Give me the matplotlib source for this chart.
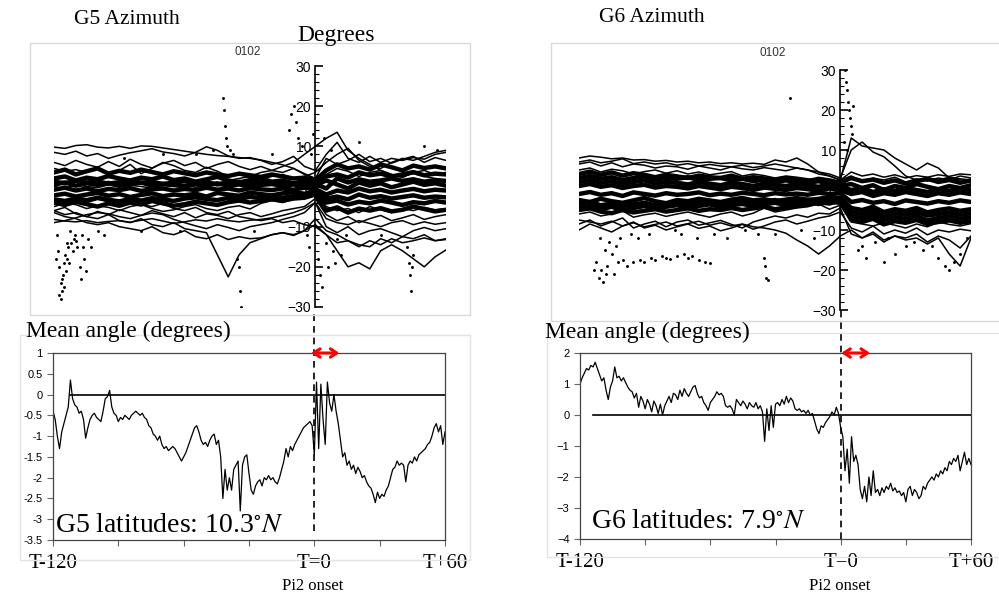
import numpy as np
import matplotlib
matplotlib.use("Agg")
import matplotlib.pyplot as plt
from matplotlib.patches import Rectangle

plt.rcParams['mathtext.fontset'] = 'stix'

W, H = 999, 597

# ---------------- data ----------------
t5 = np.arange(-120, 61, 5)      # 5-minute grid of the azimuth traces
t1 = np.arange(-120, 61, 1)      # 1-minute grid of the mean angle

# G5 azimuth traces (degrees)
g5_traces = [
    [9.8, 9.5, 10.2, 10.4, 9.8, 9.6, 10.0, 9.5, 10.1, 10.0, 9.6, 9.2, 8.8, 8.4, 8.0, 7.7, 7.5, 7.2, 7.0,
     6.6, 6.0, 5.4, 4.5, 3.2, 2.0, 3.0, 4.5, 3.8, 2.5, 3.5, 4.0, 3.0, 2.2, 3.5, 4.0, 3.0, 3.5],
    [8.5, 8.0, 8.8, 7.6, 8.2, 7.0, 7.8, 8.4, 8.9, 9.4, 8.6, 8.2, 7.6, 8.5, 9.9, 9.0, 7.6, 7.0, 7.2,
     6.5, 5.5, 6.2, 7.5, 5.0, 4.0, 8.0, 11.0, 7.0, 6.0, 7.5, 6.0, 7.0, 6.5, 7.2, 6.8, 8.0, 8.5],
    [4.5, 3.8, 4.2, 3.5, 4.8, 3.0, 4.0, 5.5, 3.2, 4.5, 6.0, 5.2, 4.0, 3.5, 4.8, 3.8, 2.5, 3.0, 2.2,
     1.8, 2.5, 3.0, 2.0, 2.5, 3.5, 6.0, 8.0, 9.5, 6.5, 5.0, 4.5, 6.0, 7.0, 6.5, 7.5, 8.5, 9.0],
    [6.0, 5.2, 6.5, 5.5, 4.8, 6.2, 5.0, 6.8, 5.5, 4.6, 5.8, 6.5, 5.2, 6.0, 4.5, 5.5, 6.2, 5.0, 4.2,
     5.0, 4.0, 3.5, 4.5, 3.0, 2.0, 7.0, 5.5, 6.5, 8.0, 6.2, 7.0, 5.8, 6.8, 7.5, 6.0, 7.2, 6.5],
    [0.0, -0.5, 0.5, 0.0, -0.3, 0.4, -0.2, 0.3, 0.0, -0.4, 0.2, 0.0, 0.5, -0.2, 0.3, 0.8, 1.5, 2.0, 2.5,
     3.5, 4.0, 5.0, 6.0, 8.0, 10.0, 12.0, 13.5, 9.0, 7.0, 5.5, 4.0, 3.0, 2.5, 3.2, 2.5, 2.0, 1.5],
    [-6.0, -5.2, -6.8, -7.5, -6.2, -7.0, -5.8, -6.5, -7.2, -6.0, -6.8, -7.5, -6.5, -7.8, -6.8, -7.2,
     -8.0, -7.0, -6.5, -7.5, -6.8, -6.0, -5.5, -5.0, -3.0, -7.0, -8.5, -7.5, -9.0, -8.0, -7.2, -8.5,
     -7.8, -7.0, -8.2, -7.5, -7.0],
    [-9.0, -8.5, -7.8, -7.0, -6.5, -6.8, -7.5, -8.0, -7.2, -6.6, -7.0, -8.2, -9.0, -9.8, -10.5, -9.5,
     -10.2, -11.0, -10.0, -9.5, -9.0, -8.2, -7.5, -6.5, -4.0, -10.0, -11.5, -10.0, -12.0, -11.0,
     -10.5, -11.5, -12.5, -11.0, -10.2, -11.0, -10.5],
    [-6.5, -7.5, -8.0, -9.0, -9.5, -9.0, -10.0, -10.5, -11.0, -10.0, -11.5, -12.0, -11.0, -12.5, -13.0,
     -12.0, -13.2, -12.5, -13.0, -12.8, -12.0, -11.5, -12.2, -11.0, -9.5, -12.0, -14.0, -13.5, -15.0,
     -13.5, -14.5, -13.0, -14.0, -13.5, -12.8, -13.5, -13.2],
    [-6.0, -7.0, -6.5, -7.5, -8.0, -7.0, -8.5, -9.0, -8.0, -9.5, -10.0, -9.0, -10.5, -11.0, -11.5,
     -17.0, -22.5, -17.0, -14.0, -13.0, -12.0, -11.5, -12.0, -11.0, -8.0, -11.0, -12.0, -13.5, -14.5,
     -15.0, -13.0, -14.0, -12.5, -13.0, -12.0, -13.5, -13.0],
    [-3.0, -3.5, -2.8, -4.0, -3.2, -3.8, -4.2, -3.5, -4.5, -5.0, -4.2, -5.5, -6.0, -5.2, -6.5, -7.0,
     -6.2, -7.5, -8.0, -8.5, -8.0, -9.0, -8.5, -9.5, -10.0, -12.0, -16.0, -20.0, -19.0, -20.5, -16.0,
     -14.5, -16.0, -18.0, -20.0, -17.5, -15.8],
    [-8.2, -8.6, -8.8, -8.5, -9.0, -8.7, -8.5, -8.9, -8.4, -8.0, -8.6, -9.2, -8.8, -8.3, -8.6, -8.0,
     -8.5, -8.8, -8.4, -8.2, -7.8, -7.2, -6.5, -5.5, -4.0, -8.0, -9.0, -9.5, -8.5, -9.2, -10.0, -9.0,
     -8.5, -9.5, -8.8, -9.4, -9.0],
    [-5.0, -4.2, -4.5, -5.5, -4.8, -5.2, -6.0, -5.0, -4.5, -5.5, -6.2, -5.8, -5.0, -4.5, -5.5, -6.0,
     -5.2, -4.8, -5.6, -4.2, -3.5, -4.0, -3.2, -2.5, -1.5, -5.0, -6.0, -5.5, -6.5, -5.0, -5.8, -6.5,
     -5.5, -6.0, -5.2, -5.8, -5.5],
]
g5_band = [
    [3.5, 4.2, 3.0, 3.8, 4.5, 3.2, 3.9, 3.4, 4.2, 3.6, 3.0, 3.8, 3.3, 2.8, 3.5, 3.0, 2.6, 3.2, 2.8,
     2.4, 3.0, 2.5, 2.0, 2.2, 1.5, 4.0, 5.5, 4.5, 5.0, 4.2, 5.5, 4.8, 4.0, 5.2, 4.6, 5.0, 4.5],
    [2.0, 2.5, 1.5, 2.2, 1.8, 2.6, 2.0, 1.5, 2.2, 1.8, 2.5, 1.6, 2.0, 1.2, 1.8, 2.4, 1.5, 1.0, 1.6,
     2.0, 1.2, 1.5, 0.8, 1.4, 1.0, 2.5, 3.0, 2.2, 3.5, 2.8, 3.2, 2.5, 3.0, 3.6, 2.8, 3.2, 3.0],
    [1.2, 0.8, 1.5, 1.0, 1.3, 0.7, 1.1, 1.4, 0.9, 1.2, 0.6, 1.0, 1.3, 0.8, 1.1, 0.5, 0.9, 1.2, 0.7,
     1.0, 0.8, 1.1, 0.6, 0.9, 0.7, -0.5, 2.0, 1.0, 1.8, 1.2, 1.5, 2.0, 1.4, 1.8, 1.2, 1.6, 1.4],
    [0.5, 1.0, 0.2, 0.8, 0.4, 0.9, 0.3, 0.6, 1.0, 0.2, 0.7, 0.4, 0.0, 0.6, 0.3, 0.8, 0.2, 0.5, 0.0,
     0.4, 0.6, 0.2, 0.5, 0.0, 0.3, 1.5, 0.5, -0.5, 1.0, 0.2, 0.8, -0.2, 0.5, 1.2, 0.4, 0.8, 0.2],
    [-0.8, -0.3, -1.0, -0.5, -1.2, -0.6, -0.9, -0.4, -1.1, -0.7, -0.5, -1.0, -0.6, -0.9, -0.3, -0.8,
     -0.5, -1.0, -0.4, -0.7, -0.9, -0.5, -0.8, -0.3, -0.6, -2.0, -1.0, -1.5, -0.5, -1.2, -0.8, -1.5,
     -1.0, -0.6, -1.2, -0.8, -1.0],
    [-2.2, -1.8, -2.5, -2.0, -1.6, -2.3, -1.9, -2.6, -2.1, -1.7, -2.4, -2.0, -2.2, -1.8, -2.5, -1.6,
     -2.0, -2.3, -1.5, -1.9, -2.2, -1.7, -1.4, -1.8, -1.2, -3.0, -2.5, -3.2, -2.0, -2.8, -2.4, -3.0,
     -2.6, -2.2, -2.8, -2.5, -2.7],
    [-3.2, -3.6, -3.0, -3.4, -2.8, -3.3, -3.7, -3.1, -3.5, -2.9, -3.2, -3.6, -3.0, -2.7, -3.1, -3.4,
     -2.8, -3.0, -2.6, -2.9, -2.5, -2.8, -2.4, -2.0, -1.5, -4.0, -3.5, -4.5, -3.8, -4.2, -3.5, -4.0,
     -4.6, -3.9, -4.2, -3.6, -4.0],
    [-4.0, -4.6, -3.8, -4.4, -5.0, -4.2, -4.8, -4.0, -4.5, -3.6, -4.2, -4.8, -4.4, -3.8, -4.2, -4.6,
     -3.9, -3.5, -4.0, -3.6, -3.2, -3.5, -3.0, -2.8, -2.0, -6.0, -5.2, -6.5, -5.5, -6.0, -5.4, -6.2,
     -5.8, -5.0, -5.6, -6.2, -5.8],
]
g5_dots_t = [-118.5, -118, -117.5, -117, -116.8, -116.5, -116, -115.5, -115, -114.5, -114, -113.5,
             -113, -112, -111, -110.5, -110, -109.5, -108, -107.5, -107, -106.5, -106, -105.5,
             -119, -117.8, -116.2, -115.2, -114.2, -112.5, -111.5, -104.5, -103, -100, -97,
             -42.5, -42, -41.5, -41, -40.5, -39, -38, -36, -35, -34.5, -34, -12, -11, -10, -9, -8,
             -6, -4, -3, -2, -1, 1, 2, 3, 4, 5, 6, 7, 8, 9, 10, 12, 14, 42, 43, 43.5, 44, 44.5, 45,
             -88, -80, -70, -62, -55, -47, -28, -20, 20, 30, 50, 56]
g5_dots_y = [-12, -16, -20, -24, -28, -26, -22, -19, -17, -21, -18, -15, -19, -14, -13, -12, -13.5,
             -15, -20, -23, -12, -15, -18, -21, -18, -27, -23, -25, -14, -11, -16, -13, -15, -11,
             -12, 22, 19, 15, 12, 10, 9, 8, -18, -20, -26, -30, 14, 18, 20, 16, 12, 10, -12, -15, 8,
             13, -18, -22, -25, 12, -14, -20, 9, -16, -19, -13, -17, -12, -15, -19, -22, -26, -20,
             -17, 7, -11, 8, -11, 8, 9, -11, 8, 11, -12, 10, 9]

# G6 azimuth traces (degrees)
g6_traces = [
    [8.0, 8.5, 8.2, 7.8, 8.0, 7.5, 7.6, 7.2, 7.4, 7.0, 7.2, 6.8, 7.0, 6.6, 6.8, 6.5, 6.7, 6.4, 7.5,
     7.0, 8.0, 6.5, 4.5, 3.5, 2.5, 3.5, 2.0, 3.0, 2.5, 3.2, 2.0, 2.8, 2.2, 3.0, 2.5, 3.5, 3.0],
    [7.0, 7.5, 6.8, 7.2, 7.8, 6.6, 7.0, 6.5, 6.8, 6.2, 6.6, 6.0, 6.4, 6.0, 5.8, 6.2, 5.6, 6.0, 6.5,
     6.0, 5.5, 5.0, 4.0, 3.5, 2.5, 4.5, 3.5, 4.0, 3.2, 3.8, 3.0, 3.6, 3.2, 3.8, 3.4, 4.0, 3.8],
    [6.5, 7.0, 6.0, 6.8, 5.8, 6.5, 6.2, 5.5, 6.0, 5.8, 5.2, 6.0, 5.5, 5.0, 5.8, 5.3, 5.0, 5.6, 5.2,
     4.8, 5.5, 5.0, 4.5, 4.0, 3.0, 10.0, 12.0, 9.5, 8.3, 6.0, 3.5, 2.5, 3.0, 2.5, 3.2, 2.8, 2.5],
    [5.0, 5.5, 4.5, 5.2, 4.8, 4.0, 4.6, 5.0, 4.2, 4.8, 4.0, 4.5, 3.8, 4.2, 4.6, 3.5, 4.0, 3.6, 3.0,
     3.5, 3.2, 2.8, 2.5, 2.0, 2.5, 13.0, 11.0, 10.5, 10.0, 8.0, 6.5, 5.0, 6.7, 5.5, 3.0, 2.5, 2.0],
    [-6.0, -5.5, -6.5, -6.0, -5.2, -6.8, -6.2, -5.8, -6.6, -6.0, -5.5, -6.2, -6.8, -6.0, -5.5, -6.5,
     -5.8, -4.5, -5.5, -5.0, -4.5, -4.2, -3.5, -4.8, -3.8, -8.0, -8.5, -9.0, -8.2, -8.8, -9.5, -8.5,
     -9.2, -8.0, -8.6, -9.0, -8.4],
    [-8.5, -7.5, -9.0, -8.0, -7.0, -9.5, -8.5, -7.8, -9.2, -8.0, -7.5, -8.8, -8.2, -7.6, -8.6, -9.5,
     -8.0, -7.2, -6.5, -7.0, -6.2, -6.8, -5.8, -6.0, -4.5, -11.0, -12.0, -10.5, -12.5, -11.5, -12.0,
     -11.0, -13.0, -11.5, -12.5, -14.5, -11.5],
    [-10.0, -8.5, -9.5, -10.5, -9.0, -8.0, -9.5, -8.8, -10.0, -9.2, -8.5, -9.6, -9.0, -10.2, -9.5,
     -8.6, -9.8, -9.0, -8.0, -7.5, -8.5, -7.8, -7.0, -6.5, -5.5, -9.5, -10.5, -9.0, -11.0, -10.0,
     -10.8, -9.5, -11.2, -10.0, -10.5, -9.8, -10.2],
    [-7.5, -8.0, -8.5, -7.8, -9.0, -8.2, -9.2, -8.6, -8.0, -9.0, -8.4, -7.8, -8.8, -8.2, -9.0, -8.5,
     -9.2, -9.5, -10.0, -10.8, -12.5, -14.0, -16.0, -14.0, -11.5, -10.0, -12.0, -11.0, -13.0, -11.5,
     -12.5, -12.0, -13.5, -12.0, -16.0, -19.0, -12.0],
]
g6_band = [
    [4.0, 4.6, 3.8, 4.4, 3.6, 4.2, 3.8, 3.2, 3.8, 3.4, 3.0, 3.6, 3.2, 3.0, 3.6, 2.8, 3.2, 2.9, 2.5,
     3.0, 2.6, 2.2, 2.8, 2.4, 1.8, 3.0, 2.2, 2.6, 1.8, 2.4, 1.6, 2.2, 2.8, 2.0, 2.5, 1.8, 2.4],
    [3.0, 3.5, 2.8, 3.2, 2.5, 3.0, 3.4, 2.6, 3.0, 2.8, 3.2, 2.5, 2.8, 3.0, 2.4, 2.8, 2.2, 2.6, 2.0,
     2.4, 2.0, 1.8, 2.2, 1.5, 1.0, 1.5, 0.5, 1.2, 0.0, 1.0, 0.5, 1.5, 0.8, 0.2, 1.0, 0.5, 1.2],
    [2.0, 2.5, 1.8, 2.2, 1.5, 2.0, 2.4, 1.6, 2.0, 1.8, 1.4, 2.0, 1.6, 1.2, 1.8, 1.5, 1.0, 1.6, 1.3,
     1.0, 1.5, 1.2, 0.8, 1.4, 1.0, 0.0, 0.5, -0.5, 0.2, -0.2, 0.5, 0.0, -0.5, 0.2, -0.2, 0.4, 0.0],
    [1.0, 1.5, 0.8, 1.2, 0.5, 1.0, 1.3, 0.6, 1.0, 0.8, 0.4, 1.0, 0.6, 0.2, 0.8, 0.5, 0.0, 0.6, 0.3,
     0.0, 0.5, 0.2, -0.2, 0.4, 0.0, -1.0, -0.5, -1.5, -0.8, -1.2, -0.5, -1.0, -1.5, -0.8, -1.2, -0.6, -1.0],
    [-1.0, -0.5, -1.2, -0.8, -1.5, -0.6, -1.0, -1.4, -0.8, -1.2, -1.0, -0.6, -1.3, -0.9, -1.2, -0.7,
     -1.0, -1.3, -0.8, -1.1, -0.9, -1.2, -0.7, -1.0, -0.8, -3.0, -2.5, -3.2, -2.8, -3.5, -2.6, -3.0,
     -3.4, -2.8, -3.2, -2.6, -3.0],
    [-2.5, -3.0, -2.2, -2.8, -3.2, -2.6, -2.0, -2.8, -3.3, -2.5, -2.8, -2.2, -2.6, -3.0, -2.4, -2.0,
     -2.6, -2.3, -2.8, -2.4, -2.0, -2.5, -2.2, -1.8, -2.0, -4.5, -5.0, -4.2, -5.5, -4.8, -5.2, -4.5,
     -5.6, -5.0, -4.6, -5.2, -4.8],
    [-3.5, -3.0, -3.8, -3.4, -4.0, -3.6, -3.2, -3.8, -3.5, -3.0, -3.6, -3.2, -3.0, -3.5, -3.1, -2.8,
     -3.2, -2.9, -2.5, -3.0, -2.7, -2.4, -2.8, -2.5, -2.0, -5.5, -6.0, -5.2, -6.5, -5.8, -6.2, -5.5,
     -6.4, -6.0, -5.6, -6.2, -5.8],
    [-4.5, -4.0, -4.8, -4.2, -5.0, -4.5, -4.0, -4.6, -4.2, -3.8, -4.5, -4.0, -3.6, -4.2, -3.8, -3.5,
     -4.0, -3.6, -3.2, -3.8, -3.4, -3.0, -3.5, -3.0, -3.2, -6.5, -7.0, -6.2, -7.5, -6.8, -7.2, -6.5,
     -7.6, -7.0, -6.6, -7.2, -6.8],
    [-5.0, -4.6, -5.4, -5.8, -5.0, -5.6, -5.2, -4.8, -5.4, -5.0, -4.6, -5.2, -4.8, -5.0, -4.5, -5.0,
     -4.6, -4.2, -4.8, -4.4, -4.0, -3.6, -3.0, -3.4, -2.5, -7.5, -8.0, -7.2, -8.6, -7.8, -8.2, -7.5,
     -8.5, -8.0, -7.6, -8.2, -7.8],
]
g6_dots_t = [-112, -111, -110, -109, -108, -107, -106, -105, -104, -103, -102, -100, -98, -95, -92,
             -90, -87, -85, -82, -80, -78, -75, -72, -70, -68, -65, -62, -60, -35, -34.5, -34, -33,
             -23, 2, 2.5, 3, 3.5, 4, 4.5, 5, 5.5, 6, 8, 12, 16, 20, 25, 30, 38, 45, 48, 50, 52, 55,
             -113, -110.5, -107.5, -101, -96, -93, -88, -76, -73, -66, -58, -52, -44, -38, -30, -18,
             -12, 1.5, 3, 10, 22, 34, 42, 58]
g6_dots_y = [-18, -22, -20, -23, -15, -19, -13, -16, -21, -14, -18, -17.5, -19, -18, -17.5, -18,
             -17, -17.5, -16.5, -17, -17.2, -16.5, -16, -17, -16.5, -17.5, -18, -18.2, -17, -19,
             -22, -22.5, 23, 30, 27, 25, 22, 20, 18, 16, 14, 21, -15, -17, -13, -18, -16, -14, -15,
             -17, -19, -20, -18, -16, -20, -12, -21, -12, -11, -12, -11, -10, -11, -12, -11, -12,
             -10, -11, -11, -10, -12, 12, 10, -14, -12, -13, -14, -12]

# mean angle (degrees), 1-minute steps from T-120 to T+60
g5_mean = [
    -0.4, -0.6, -1.0, -1.3, -0.9, -0.7, -0.5, -0.3, 0.35, -0.1,
    -0.25, -0.3, -0.45, -0.4, -0.6, -1.05, -0.8, -0.6, -0.5, -0.45,
    -0.55, -0.6, -0.65, -0.4, -0.1, -0.05, 0.1, -0.3, -0.45, -0.5,
    -0.65, -0.55, -0.6, -0.5, -0.55, -0.6, -0.5, -0.45, -0.4, -0.45,
    -0.5, -0.45, -0.55, -0.6, -0.75, -0.8, -0.95, -1.0, -1.1, -1.0,
    -1.2, -1.3, -1.25, -1.35, -1.3, -1.25, -1.3, -1.4, -1.5, -1.6,
    -1.5, -1.4, -1.25, -1.1, -0.95, -0.8, -0.75, -0.9, -1.1, -1.2,
    -1.15, -1.25, -1.1, -1.0, -0.95, -1.2, -1.1, -1.5, -2.5, -1.8,
    -2.3, -2.0, -2.3, -1.8, -1.7, -1.6, -2.8, -1.7, -1.5, -1.45,
    -1.9, -2.3, -2.4, -2.2, -2.1, -2.05, -2.2, -2.0, -2.05, -1.95,
    -2.05, -2.0, -2.1, -2.15, -2.0, -1.8, -1.6, -1.3, -1.5, -1.25,
    -1.35, -1.2, -1.1, -1.0, -0.9, -0.8, -0.75, -0.7, -0.65, -0.75,
    -1.45, 0.3, -1.3, 0.25, -0.6, -1.2, 0.3, -0.2, -0.4, 0.0,
    -0.4, -0.7, -1.1, -1.5, -1.4, -1.7, -1.6, -1.8, -1.7, -1.9,
    -1.75, -1.85, -2.0, -1.95, -2.1, -2.2, -2.25, -2.4, -2.6, -2.35,
    -2.5, -2.4, -2.45, -2.3, -2.2, -2.0, -1.8, -1.75, -1.6, -1.7,
    -1.65, -1.7, -2.1, -1.7, -1.6, -1.65, -1.5, -1.6, -1.45, -1.4,
    -1.35, -1.3, -1.2, -1.15, -1.0, -0.8, -0.7, -0.9, -0.75, -1.2,
    -0.9,
]
g6_mean = [
    1.0, 1.2, 1.35, 1.5, 1.45, 1.6, 1.55, 1.7, 1.5, 1.3,
    1.1, 1.2, 0.8, 0.5, 0.9, 1.1, 1.55, 1.2, 1.25, 1.1,
    1.2, 1.05, 0.9, 0.8, 0.75, 0.55, 0.7, 0.25, 0.6, 0.45,
    0.2, 0.5, 0.35, 0.1, 0.45, 0.3, 0.05, 0.35, 0.0, 0.3,
    0.45, 0.6, 0.4, 0.7, 0.65, 0.5, 0.8, 0.6, 0.85, 0.7,
    0.6, 0.75, 0.9, 0.95, 0.7, 0.55, 0.6, 0.4, 0.3, 0.15,
    0.4, 0.5, 0.6, 0.75, 0.65, 0.7, 0.6, 0.3, 0.25, 0.3,
    0.2, 0.0, 0.5, 0.4, 0.3, 0.45, 0.35, 0.2, 0.4, 0.3,
    0.25, 0.4, 0.2, 0.3, 0.1, -0.85, 0.2, -0.5, 0.3, -0.4,
    0.35, 0.4, 0.3, 0.5, 0.35, 0.6, 0.4, 0.55, 0.45, 0.2,
    0.15, 0.2, 0.1, 0.15, 0.05, 0.15, 0.0, 0.05, -0.2, -0.45,
    -0.6, -0.35, -0.4, -0.25, -0.15, -0.05, 0.1, 0.0, 0.25, 0.05,
    -0.4, -0.7, -1.8, -1.1, -2.2, -0.7, -1.5, -1.3, -1.6, -2.4,
    -2.7, -2.3, -2.8, -2.0, -2.6, -1.8, -2.5, -2.4, -2.6, -2.35,
    -2.5, -2.3, -2.4, -2.2, -2.45, -2.35, -2.5, -2.45, -2.6, -2.5,
    -2.8, -2.4, -2.3, -2.6, -2.4, -2.5, -2.7, -2.6, -2.3, -2.4,
    -2.2, -2.1, -2.0, -2.1, -1.9, -2.0, -1.8, -1.9, -1.7, -1.8,
    -1.5, -1.6, -1.4, -1.5, -1.3, -1.8, -1.5, -1.2, -1.6, -1.4,
    -1.6,
]

g5_yticks = [1, 0.5, 0, -0.5, -1, -1.5, -2, -2.5, -3, -3.5]
g5_ylabels = ['1', '0.5', '0', '-0.5', '-1', '-1.5', '-2', '-2.5', '-3', '-3.5']
g6_yticks = [2, 1, 0, -1, -2, -3, -4]
g6_ylabels = ['2', '1', '0', '\u22121', '\u22122', '\u22123', '\u22124']
xtick_pos = [-120, -90, -60, -30, 0, 30, 60]
xtick_labels = ['T-120', '', '', '', 'T=0', '', 'T+60']

# ---------------- figure ----------------
fig = plt.figure(figsize=(W / 100, H / 100), dpi=100)


def px_axes(x0, y0, x1, y1):
    return fig.add_axes([x0 / W, 1 - y1 / H, (x1 - x0) / W, (y1 - y0) / H])


def px_box(x0, y0, x1, y1, color='#d9d9d9'):
    fig.add_artist(Rectangle((x0 / W, 1 - y1 / H), (x1 - x0) / W, (y1 - y0) / H,
                             transform=fig.transFigure, fill=False, edgecolor=color, lw=1.0))


def ftext(x, y, s, **kw):
    fig.text(x / W, 1 - y / H, s, **kw)


serif = 'Liberation Serif'
sans = 'Liberation Sans'

# frames
px_box(30, 43, 470, 315)
px_box(551, 43, 1010, 321)
px_box(20, 335, 470, 560, '#e3e3e3')
px_box(547, 333, 1010, 557, '#e3e3e3')


def azimuth_panel(box, traces, band, dots_t, dots_y):
    ax = px_axes(*box)
    ax.set_xlim(-120, 60)
    ax.set_ylim(-30, 30)
    for tr in traces:
        ax.plot(t5, tr, color='k', lw=1.1)
    for tr in band:
        ax.plot(t5, tr, color='k', lw=3.2)
    ax.plot(dots_t, dots_y, 'k.', ms=2.2)
    for s in ['top', 'right', 'bottom']:
        ax.spines[s].set_visible(False)
    ax.spines['left'].set_position(('data', 0))
    ax.spines['left'].set_linewidth(1.2)
    ax.set_xticks([])
    ax.set_yticks(range(-30, 31, 10))
    ax.set_yticks(range(-30, 31, 2), minor=True)
    ax.tick_params(axis='y', which='major', direction='in', length=6, width=1.2,
                   labelsize=10, pad=3)
    ax.tick_params(axis='y', which='minor', direction='in', length=3, width=0.8)
    for lb in ax.get_yticklabels():
        lb.set_fontfamily(sans)
    ax.patch.set_alpha(0)
    return ax


azimuth_panel((54, 66, 446, 307), g5_traces, g5_band, g5_dots_t, g5_dots_y)
azimuth_panel((579, 70, 971, 310), g6_traces, g6_band, g6_dots_t, g6_dots_y)


def mean_panel(box, values, yticks, ylabels, ylim, zero_start, dash_lo, dash_hi, arrow_x):
    ax = px_axes(*box)
    ax.plot(t1, values, color='k', lw=0.9)
    ax.plot([zero_start, 60], [0, 0], color='k', lw=1.2)
    ax.set_xlim(-120, 60)
    ax.set_ylim(*ylim)
    ax.set_yticks(yticks)
    ax.set_yticklabels(ylabels, fontfamily=sans, fontsize=8)
    ax.set_xticks(xtick_pos)
    ax.set_xticklabels(xtick_labels, fontfamily=serif, fontsize=15)
    ax.tick_params(axis='both', direction='out', length=4, color='#666666', width=0.8)
    ax.tick_params(axis='x', pad=6)
    for s in ax.spines.values():
        s.set_color('#444444')
        s.set_linewidth(0.9)
    ax.axvline(0, ymin=dash_lo, ymax=dash_hi, color='k', ls=(0, (4, 3)), lw=1.2, clip_on=False)
    ax.annotate('', xy=(arrow_x[1], 1.0), xytext=(arrow_x[0], 1.0),
                xycoords=('data', 'axes fraction'), textcoords=('data', 'axes fraction'),
                arrowprops=dict(arrowstyle='<->,head_length=0.45,head_width=0.3',
                                color='red', lw=2.2, shrinkA=0, shrinkB=0),
                annotation_clip=False)
    return ax


mean_panel((53, 353, 445, 540), g5_mean, g5_yticks, g5_ylabels, (-3.5, 1), -112,
           0.05, 1.23, (-1.5, 11.5))
mean_panel((580, 353, 971, 539), g6_mean, g6_yticks, g6_ylabels, (-4, 2), -114,
           0.0, 1.23, (0.3, 13.5))

# texts
ftext(127, 19, 'G5 Azimuth', family=serif, fontsize=15.5, ha='center', va='center')
ftext(652, 18, 'G6 Azimuth', family=serif, fontsize=15.5, ha='center', va='center')
ftext(336, 36, 'Degrees', family=serif, fontsize=17, ha='center', va='center')
ftext(248, 52, '0102', family=sans, fontsize=8.5, ha='center', va='center', color='#333333')
ftext(773, 53, '0102', family=sans, fontsize=8.5, ha='center', va='center', color='#333333')
ftext(128, 331, 'Mean angle (degrees)', family=serif, fontsize=17, ha='center', va='center')
ftext(647, 332, 'Mean angle (degrees)', family=serif, fontsize=17, ha='center', va='center')
ftext(55, 526, 'G5 latitudes: 10.3$^{\\circ}N$', family=serif, fontsize=20, ha='left', va='center')
ftext(591, 521, 'G6 latitudes: 7.9$^{\\circ}N$', family=serif, fontsize=20, ha='left', va='center')
ftext(313, 586, 'Pi2 onset', family=serif, fontsize=12, ha='center', va='center')
ftext(840, 586, 'Pi2 onset', family=serif, fontsize=12, ha='center', va='center')

fig.savefig('out.png', dpi=100)
